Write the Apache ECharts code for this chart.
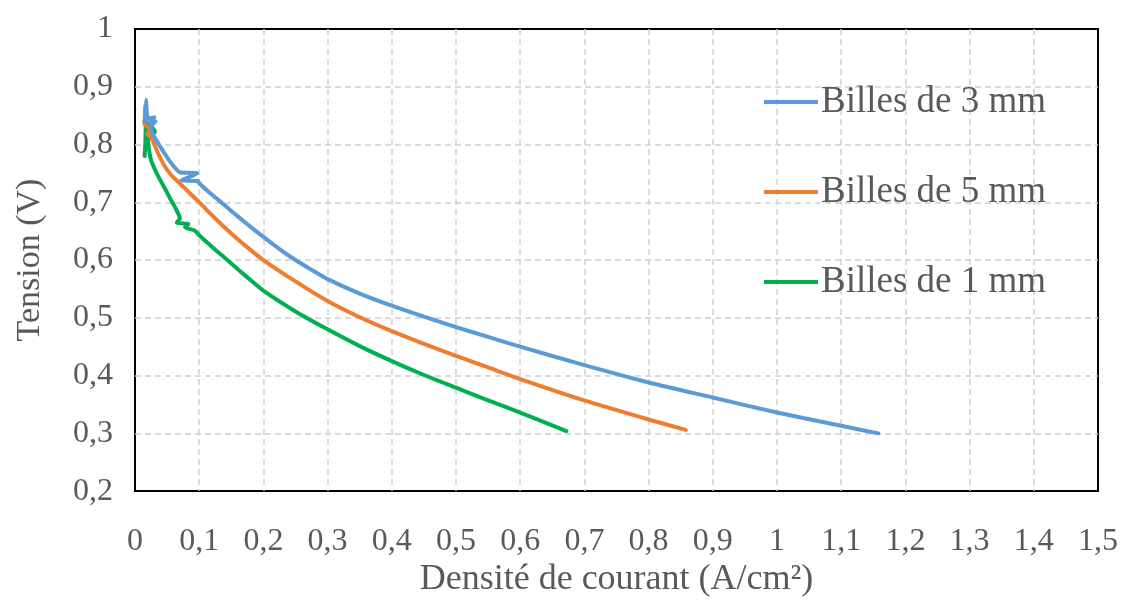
<!DOCTYPE html>
<html>
<head>
<meta charset="utf-8">
<script src="https://cdn.jsdelivr.net/npm/echarts@6/dist/echarts.min.js"></script>
<style>html,body{margin:0;padding:0;background:#fff}#c{width:1126px;height:603px}</style>
</head>
<body>
<div id="c"></div>
<script>
// Billes de 3 mm
const current3 = [0.016,0.017,0.019,0.022,0.030,0.023,0.032,0.025,0.028,0.040,0.053,0.062,0.070,0.097,0.072,0.098,0.100,0.115,0.132,0.150,0.175,0.200,0.225,0.250,0.275,0.300,0.350,0.400,0.450,0.500,0.550,0.600,0.700,0.800,0.900,1.000,1.100,1.158];
const voltage3 = [0.840,0.877,0.850,0.845,0.847,0.838,0.840,0.830,0.818,0.795,0.773,0.760,0.752,0.750,0.738,0.737,0.733,0.718,0.702,0.685,0.662,0.640,0.619,0.600,0.583,0.567,0.542,0.521,0.502,0.484,0.467,0.450,0.418,0.388,0.362,0.336,0.313,0.300];
// Billes de 5 mm
const current5 = [0.016,0.015,0.020,0.024,0.019,0.025,0.035,0.045,0.055,0.075,0.100,0.125,0.150,0.175,0.200,0.250,0.300,0.350,0.400,0.450,0.500,0.550,0.600,0.700,0.800,0.858];
const voltage5 = [0.867,0.835,0.830,0.825,0.818,0.813,0.787,0.765,0.749,0.727,0.700,0.672,0.646,0.622,0.600,0.563,0.529,0.501,0.477,0.455,0.434,0.414,0.394,0.357,0.324,0.306];
// Billes de 1 mm
const current1 = [0.0145,0.017,0.016,0.015,0.020,0.026,0.031,0.020,0.022,0.025,0.033,0.040,0.047,0.055,0.063,0.070,0.065,0.083,0.078,0.093,0.100,0.125,0.150,0.175,0.200,0.250,0.300,0.350,0.400,0.450,0.500,0.550,0.600,0.672];
const voltage1 = [0.840,0.845,0.800,0.780,0.835,0.830,0.822,0.810,0.790,0.773,0.752,0.737,0.723,0.706,0.690,0.672,0.665,0.662,0.657,0.651,0.643,0.618,0.594,0.570,0.547,0.511,0.480,0.451,0.425,0.401,0.379,0.357,0.336,0.304];

const seriesNames = ['Billes de 3 mm','Billes de 5 mm','Billes de 1 mm'];
const seriesColors = ['#5b9bd5','#ed7d31','#00b050'];
const xTitle = 'Densité de courant (A/cm²)';
const yTitle = 'Tension (V)';

function zip(a,b){return a.map((v,i)=>[v,b[i]]);}
function fmt(v){let s=(+v.toFixed(1)).toString();return s.replace('.',',');}

const FONT = '"Liberation Serif","Times New Roman",serif';
const TXT = '#595959';
const GRIDLINE = {show:true,showMinLine:false,showMaxLine:false,lineStyle:{color:'#d0d0d0',type:[6,4],width:1.5}};

const chart = echarts.init(document.getElementById('c'), null, {renderer:'canvas'});
const datas = [zip(current3,voltage3), zip(current5,voltage5), zip(current1,voltage1)];
chart.setOption({
  animation:false,
  backgroundColor:'#fff',
  grid:{left:135,right:28,top:29,bottom:108,show:true,borderColor:'#000',borderWidth:2,backgroundColor:'transparent'},
  legend:{
    orient:'vertical', left:759, top:77,
    icon:'rect', itemWidth:54, itemHeight:4, itemGap:50,
    textStyle:{fontFamily:FONT,fontSize:37,color:TXT,lineHeight:40,padding:[0,0,0,-2]},
    data:seriesNames
  },
  xAxis:{
    type:'value', min:0, max:1.5, interval:0.1,
    name:xTitle, nameLocation:'middle', nameGap:68,
    nameTextStyle:{fontFamily:FONT,fontSize:36,color:TXT},
    axisLine:{show:false}, axisTick:{show:false},
    axisLabel:{formatter:fmt,fontFamily:FONT,fontSize:32,color:TXT,margin:34},
    splitLine:GRIDLINE
  },
  yAxis:{
    type:'value', min:0.2, max:1, interval:0.1,
    name:yTitle, nameLocation:'middle', nameGap:88, nameRotate:90,
    nameTextStyle:{fontFamily:FONT,fontSize:34,color:TXT},
    axisLine:{show:false}, axisTick:{show:false},
    axisLabel:{formatter:fmt,fontFamily:FONT,fontSize:32,color:TXT,margin:22},
    splitLine:GRIDLINE
  },
  series: seriesNames.map((n,i)=>({
    name:n, type:'line', data:datas[i], showSymbol:false, symbol:'none',
    smooth:0.2,
    color:seriesColors[i],
    lineStyle:{width:4,color:seriesColors[i],join:'round',cap:'round'},
    z:3-i
  }))
});
</script>
</body>
</html>
